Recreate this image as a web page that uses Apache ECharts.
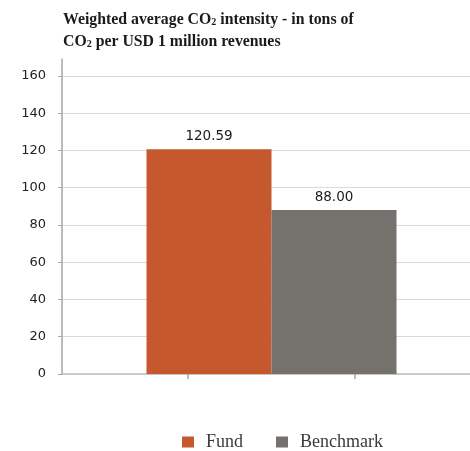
<!DOCTYPE html>
<html><head><meta charset="utf-8">
<script src="https://cdn.jsdelivr.net/npm/echarts@6/dist/echarts.min.js"></script>
<style>html,body{margin:0;padding:0;background:#fff}#c{width:470px;height:451px}</style>
</head><body><div id="c"></div>
<script>
const categories = [''];
const seriesNames = ['Fund', 'Benchmark'];
const fundValues = [120.59];
const benchmarkValues = [88.00];
const yTicks = [0, 20, 40, 60, 80, 100, 120, 140, 160];
const colors = ['#C5582D', '#75716C'];

const chart = echarts.init(document.getElementById('c'), null, {renderer: 'canvas'});
const gridColors = yTicks.map(() => '#d9d9d9').concat(['rgba(0,0,0,0)']);
chart.setOption({
  animation: false,
  title: {
    left: 58, top: 4,
    text: '{b|Weighted average CO}{s|2}{b| intensity - in tons of}\n{b|CO}{s|2}{b| per USD 1 million revenues}',
    textStyle: {
      rich: {
        b: {fontFamily: 'Liberation Serif', fontWeight: 'bold', fontSize: 15.8, color: '#1a1a1a', lineHeight: 22},
        s: {fontFamily: 'Liberation Serif', fontWeight: 'bold', fontSize: 10, color: '#1a1a1a', lineHeight: 22, verticalAlign: 'bottom', padding: [0,0,4,0]}
      }
    }
  },
  legend: {
    left: 177, top: 428,
    itemWidth: 12, itemHeight: 11, itemGap: 33,
    icon: 'rect',
    textStyle: {fontFamily: 'Liberation Serif', fontSize: 18, color: '#3a3a3a', padding: [0,0,0,7]},
    data: seriesNames
  },
  grid: {left: 62, top: 59, width: 419, height: 315, containLabel: false, outerBoundsMode: 'none'},
  xAxis: [{
    type: 'category', data: categories,
    axisLine: {lineStyle: {color: '#bfbfbf', width: 1.5}},
    axisTick: {show: false},
    axisLabel: {show: false}
  }, {
    type: 'value', min: 0, max: 419, position: 'bottom',
    axisLine: {show: false}, splitLine: {show: false},
    axisLabel: {show: false},
    axisTick: {show: true, length: 5, customValues: [126, 293], lineStyle: {color: '#a6a6a6', width: 1.5}}
  }],
  yAxis: {
    type: 'value', min: 0, max: 169.1,
    axisLine: {show: true, lineStyle: {color: '#a6a6a6', width: 1.5}},
    axisTick: {show: true, length: 4, customValues: yTicks, lineStyle: {color: '#a6a6a6'}},
    axisLabel: {customValues: yTicks, margin: 16, fontFamily: 'DejaVu Sans', fontSize: 13, color: '#222'},
    splitLine: {show: true, lineStyle: {color: gridColors, width: 1}}
  },
  series: [{
    name: seriesNames[0], type: 'bar', data: fundValues, barWidth: 125, barGap: '0%',
    itemStyle: {color: colors[0]},
    label: {show: true, position: 'top', distance: 6, formatter: p => p.value.toFixed(2), fontFamily: 'DejaVu Sans', fontSize: 13.5, color: '#1a1a1a'}
  }, {
    name: seriesNames[1], type: 'bar', data: benchmarkValues, barWidth: 125, barGap: '0%',
    itemStyle: {color: colors[1]},
    label: {show: true, position: 'top', distance: 6, formatter: p => p.value.toFixed(2), fontFamily: 'DejaVu Sans', fontSize: 13.5, color: '#1a1a1a'}
  }]
});
</script></body></html>
